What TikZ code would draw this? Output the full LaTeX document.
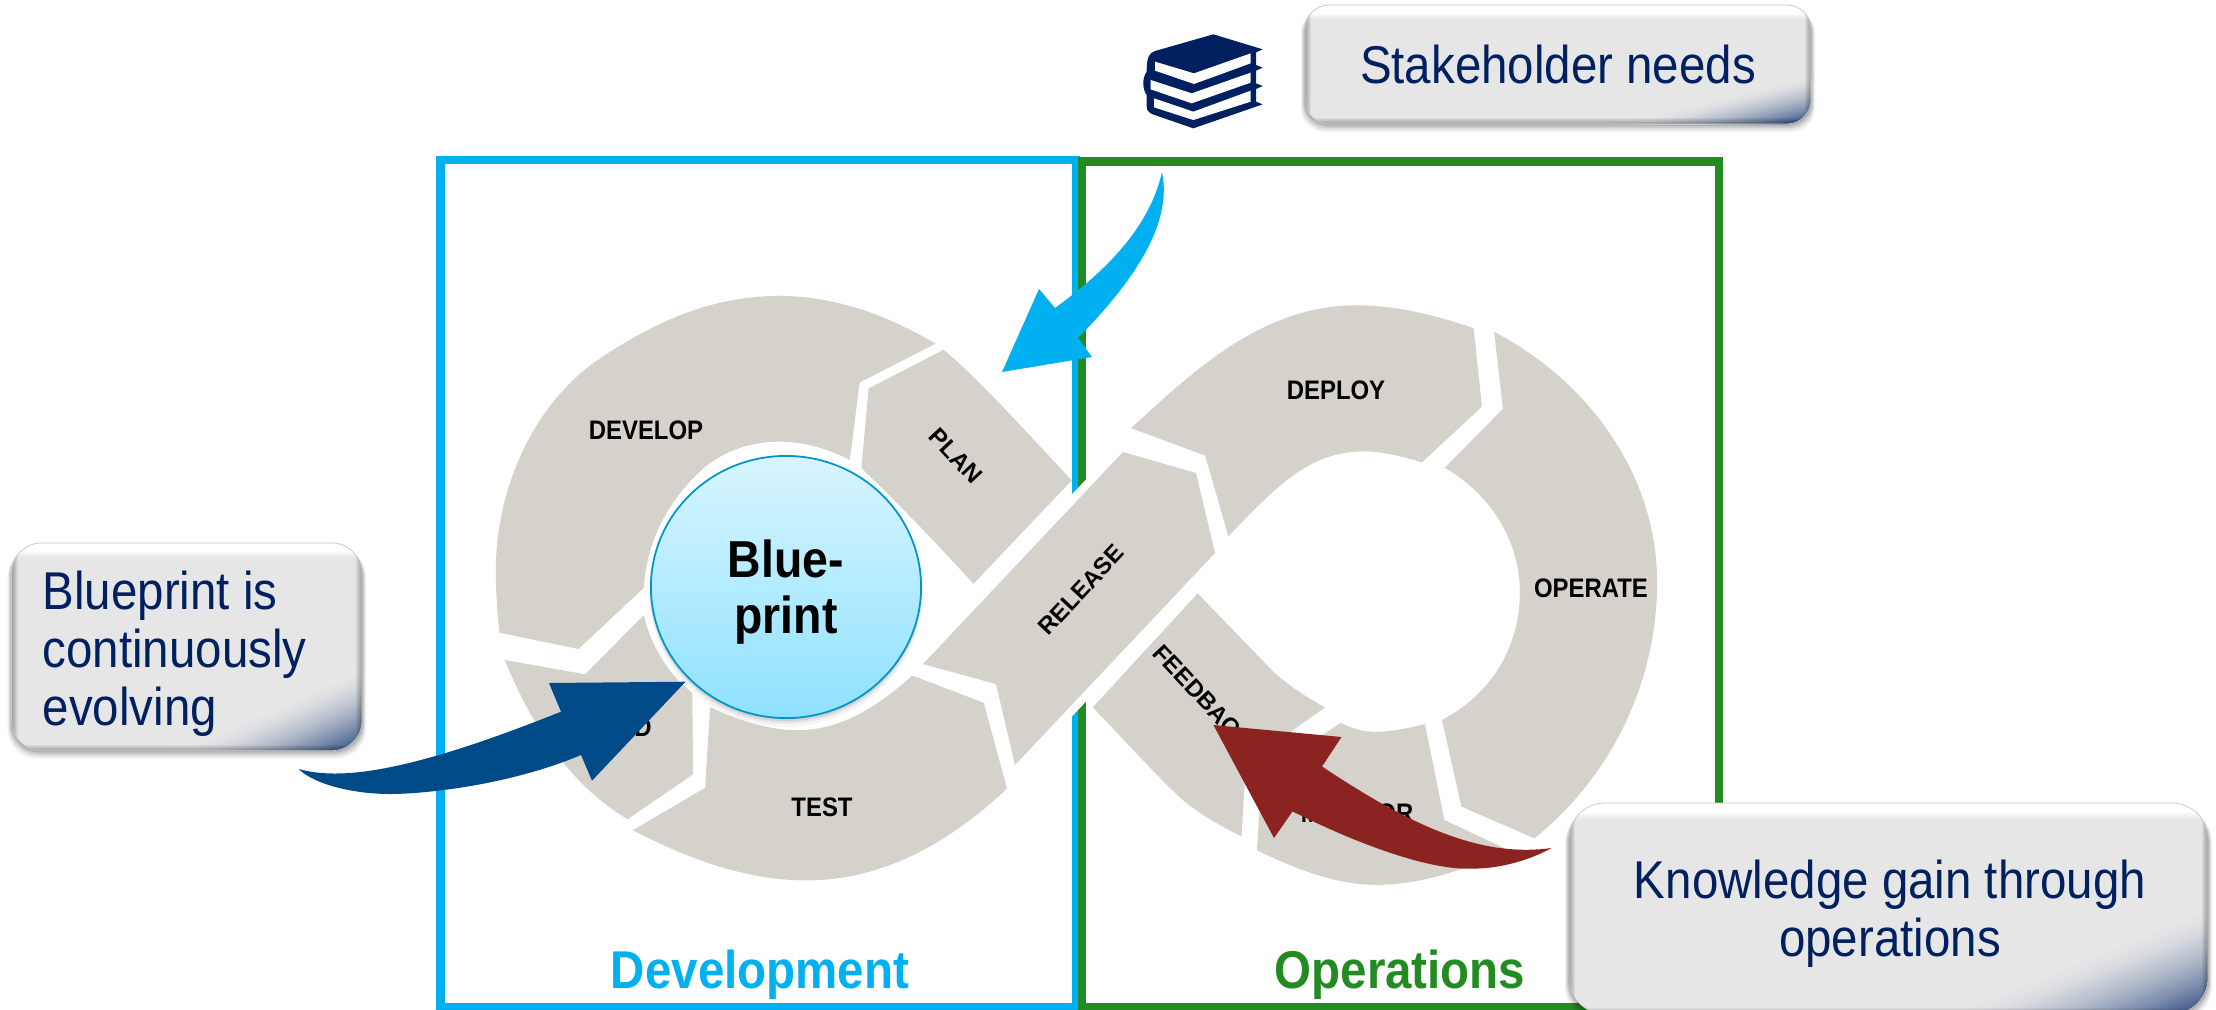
\documentclass[tikz,border=0pt]{standalone}
\usepackage{fontspec}
\setmainfont{Liberation Sans}
\usetikzlibrary{shapes.geometric}
\definecolor{blobc}{HTML}{D5D1CB}
\definecolor{devblue}{HTML}{00B0F0}
\definecolor{opsgreen}{HTML}{228B22}
\definecolor{navytxt}{HTML}{002060}
\definecolor{boxgray}{HTML}{E6E6E6}
\definecolor{cornerblue}{HTML}{1F3F7A}
\definecolor{darkarrow}{HTML}{004B87}
\definecolor{redarrow}{HTML}{8B2320}
\definecolor{disctop}{HTML}{D8F5FF}
\definecolor{discbot}{HTML}{8FE1FF}
\tikzset{
  blob/.style={fill=blobc},
  tall/.style={yscale=1.12,transform shape},
  frameline/.style={line width=2.28pt,line join=miter},
  steplabel/.style={font=\bfseries\fontsize{6.8}{8}\selectfont,text=black,inner sep=0pt},
  boxtext/.style={tall,font=\fontsize{13.5}{14.7}\selectfont,text=navytxt,inner sep=0pt},
  areatitle/.style={tall,font=\bfseries\fontsize{13.5}{16}\selectfont,inner sep=0pt,anchor=base},
  zoomA/.style={shift={(440,260)},xscale=0.44643,yscale=0.40816},
  zoomB/.style={shift={(1060,280)},xscale=0.39541,yscale=0.40816},
  zoomI/.style={shift={(1130,20)},xscale=0.33333,yscale=0.33333},
}
% x1,y1,x2,y2,radius,a,b,topband
\newcommand{\glossbox}[8]{%
  \foreach \sv/\ov in {8/0.05,6/0.07,4/0.09,2/0.12}{
    \fill[black,opacity=\ov,rounded corners=#5*0.2845pt]
      ({#1-\sv*0.5},{#2+4}) rectangle ({#3+\sv*0.5},{#4+\sv});
  }
  \begin{scope}
    \clip[rounded corners=#5*0.2845pt] (#1,#2) rectangle (#3,#4);
    \fill[boxgray] (#1,#2) rectangle (#3,#4);
    \shade[top color=white,bottom color=boxgray] (#1,{#2+#8*0.55}) rectangle (#3,{#2+#8});
    \fill[white] (#1,#2) rectangle (#3,{#2+#8*0.55});
    \foreach \iv in {0,...,31}{
      \pgfmathsetmacro{\tv}{1-\iv/32}
      \pgfmathtruncatemacro{\pv}{100*pow(\iv/32,1.6)}
      \fill[cornerblue!\pv!boxgray] ({#3-#6*\tv},#4) -- (#3,{#4-#7*\tv}) -- (#3,#4) -- cycle;
    }
    \foreach \kv in {1,...,6}{
      \fill[black,opacity=0.05] (#1,#2) rectangle ({#1+\kv},#4);
      \fill[black,opacity=0.05] ({#3-\kv},#2) rectangle (#3,#4);
      \fill[black,opacity=0.05] (#1,{#4-\kv}) rectangle (#3,#4);
    }
  \end{scope}
  \draw[gray!45,line width=0.2pt,rounded corners=#5*0.2845pt] (#1,#2) rectangle (#3,#4);
}
\begin{document}
\begin{tikzpicture}[x=0.01cm,y=-0.01cm]
\useasboundingbox (0,0) rectangle (2216,1009);
\clip (0,0) rectangle (2216,1009);
\fill[white] (0,0) rectangle (2216,1009);

% frames
\draw[frameline,devblue] (440.5,160) rectangle (1076,1007);
\draw[frameline,opsgreen] (1082,161.5) rectangle (1719,1007);

\node[areatitle,text=devblue] (devtitle) at (760,988) {Development};
\node[areatitle,text=opsgreen] (opstitle) at (1400,988) {Operations};

% left loop
\begin{scope}[zoomA]
% develop
\fill[blob] (1110,205) .. controls (1010,140) and (890,88) .. (760,88)
  .. controls (600,88) and (470,160) .. (360,240)
  .. controls (210,349) and (125,560) .. (125,760)
  .. controls (125,810) and (128,860) .. (133,913)
  -- (310,953) -- (457,803)
  .. controls (462,690) and (510,590) .. (590,510)
  .. controls (640,465) and (700,445) .. (760,445)
  .. controls (815,445) and (870,463) .. (918,490)
  -- (940,300) -- cycle;
% plan
\fill[blob] (1128,220) .. controls (1200,285) and (1300,405) .. (1415,540)
  -- (1195,793) .. controls (1100,680) and (1030,600) .. (944,510)
  -- (960,315) -- cycle;
% build
\fill[blob] (145,980) -- (325,1015) -- (457,870)
  .. controls (470,940) and (510,1015) .. (565,1060)
  -- (567,1260) -- (420,1370)
  .. controls (290,1285) and (205,1140) .. cycle;
% test
\fill[blob] (605,1095) .. controls (670,1130) and (740,1152) .. (800,1152)
  .. controls (880,1152) and (960,1115) .. (1058,1018)
  -- (1218,1085) -- (1270,1295)
  .. controls (1130,1440) and (980,1520) .. (820,1520)
  .. controls (690,1520) and (560,1470) .. (432,1397)
  -- (594,1293) -- cycle;
\end{scope}

% release
\fill[blob,preaction={draw=white,line width=4.6pt}] (923,664) -- (1123,452) -- (1196,473) -- (1215,553) -- (1015,765) -- (996,684) -- cycle;

% right loop
\begin{scope}[zoomB]
% deploy
\fill[blob] (180,363) .. controls (350,210) and (520,62) .. (750,62)
  .. controls (860,62) and (960,90) .. (1046,118)
  -- (1067,310) -- (915,447)
  .. controls (860,430) and (810,420) .. (770,420)
  .. controls (640,420) and (560,490) .. (426,628)
  -- (367,430) -- cycle;
% operate
\fill[blob] (1098,127) .. controls (1340,250) and (1510,480) .. (1510,740)
  .. controls (1510,980) and (1400,1210) .. (1200,1368)
  -- (1015,1290) -- (966,1078)
  .. controls (1090,1015) and (1163,900) .. (1163,765)
  .. controls (1163,640) and (1090,525) .. (973,460)
  -- (1120,316) -- cycle;
% monitor
\fill[blob] (710,1085) .. controls (735,1098) and (765,1107) .. (795,1107)
  .. controls (840,1107) and (880,1098) .. (923,1088)
  -- (972,1323) -- (1130,1395)
  .. controls (1020,1450) and (900,1482) .. (800,1482)
  .. controls (700,1482) and (600,1445) .. (498,1397)
  -- (510,1215) -- cycle;
% feedback
\fill[blob] (348,768) .. controls (430,850) and (480,900) .. (530,950)
  .. controls (570,990) and (620,1020) .. (670,1047)
  -- (470,1185) -- (459,1363)
  .. controls (390,1330) and (340,1300) .. (300,1265)
  .. controls (250,1220) and (170,1135) .. (83,1047) -- cycle;
\end{scope}

% step labels
\node[steplabel,tall] (develop) at (646,430) {DEVELOP};
\node[steplabel,rotate=-47] (plan) at (956,456) {PLAN};
\node[steplabel,rotate=47] (release) at (1081,590) {RELEASE};
\node[steplabel,tall] (test) at (822,807) {TEST};
\node[steplabel,tall] (build) at (615,727) {BUILD};
\node[steplabel,tall] (deploy) at (1336,390) {DEPLOY};
\node[steplabel,tall] (operate) at (1591,588) {OPERATE};
\node[steplabel,rotate=-47] (feedback) at (1203,697) {FEEDBACK};
\node[steplabel,tall] (monitor) at (1357,813) {MONITOR};

% blueprint disc
\foreach \sv/\ov in {8/0.04,5/0.06,3/0.08,1/0.10}{
  \fill[black,opacity=\ov] (786,{587+\sv*0.6}) ellipse ({135+\sv*0.25} and {131+\sv*0.5});
}
\node[ellipse,draw=devblue!85!black,line width=0.5pt,top color=disctop,bottom color=discbot,
  minimum width=2.7cm,minimum height=2.62cm,inner sep=0pt] (disc) at (786,587) {};
\node[tall,inner sep=0pt,align=center,font=\bfseries\fontsize{13.2}{14.2}\selectfont,text=black] (blueprint) at (786,592) {Blue-\\print};

% block arrows
\fill[devblue] (1162,172) .. controls (1172,220) and (1140,275) .. (1078,338)
  -- (1092,357) -- (1002,372) -- (1039,289) -- (1055,308)
  .. controls (1110,268) and (1150,225) .. cycle;
\fill[darkarrow] (298.5,769) .. controls (345,782) and (420,768) .. (561,711.7)
  -- (549,683) -- (685.5,681.7) -- (592,780.7) -- (581,755)
  .. controls (510,785) and (425,794) .. (390,794)
  .. controls (355,794) and (315,785) .. cycle;
\fill[redarrow] (1551.5,848) .. controls (1480,858) and (1410,825) .. (1322,766.5)
  -- (1341.5,737) -- (1213.4,725) -- (1274,838) -- (1292.5,811.4)
  .. controls (1380,855) and (1440,870) .. (1471,868.6)
  .. controls (1500,869) and (1530,860) .. cycle;

% book icon
\begin{scope}[zoomI]
\fill[navytxt] (250,43) -- (398,88) -- (378,97) -- (378,135) -- (398,143) -- (378,152) -- (378,190) -- (398,198) -- (378,207) -- (378,245) -- (398,253)
  -- (190,325) -- (68,283) .. controls (55,278) and (50,270) .. (50,258) -- (50,225)
  .. controls (38,210) and (35,175) .. (50,155) .. controls (50,115) and (55,100) .. (75,93) -- cycle;
\fill[white] (75,125) -- (192,160) -- (362,100) -- (362,130) -- (192,192) -- (75,152) -- cycle;
\fill[white] (62,180) -- (185,220) -- (362,158) -- (362,188) -- (185,250) -- (62,208) -- cycle;
\fill[white] (72,235) -- (190,275) -- (362,212) -- (362,245) -- (190,300) -- (72,262) -- cycle;
\end{scope}

% callouts
\glossbox{1305}{5}{1811}{124}{24}{200}{50}{14}
\node[boxtext,anchor=base] (stake) at (1558,83) {Stakeholder needs};
\glossbox{11.5}{543}{362}{750.7}{30}{190}{85}{14}
\node[boxtext,anchor=west,align=left] (bpnote) at (42,654) {Blueprint is\\continuously\\evolving};
\glossbox{1569}{803}{2208}{1014}{36}{270}{110}{16}
\node[boxtext,align=center] (knownote) at (1890,914) {Knowledge gain through\\operations};
\end{tikzpicture}
\end{document}
